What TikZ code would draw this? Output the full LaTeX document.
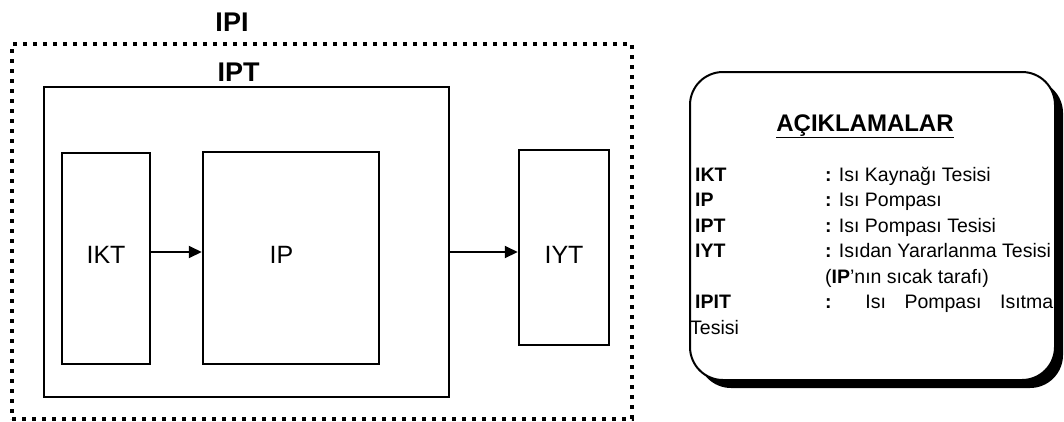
\documentclass[tikz,border=0pt]{standalone}
\usepackage{fontspec}
\setmainfont{Liberation Sans}
\usetikzlibrary{arrows.meta,shadows}
\begin{document}
\begin{tikzpicture}[x=1pt,y=-1pt,
  box/.style={draw,line width=2.5pt,inner sep=0pt},
  dotbox/.style={draw,line width=4pt,dash pattern=on 4pt off 6pt,inner sep=0pt},
  arr/.style={line width=2pt,-{Triangle[length=13pt,width=12pt]}},
  big/.style={font=\fontsize{27}{32}\selectfont\bfseries},
  mid/.style={font=\fontsize{25}{30}\selectfont},
  leg/.style={font=\fontsize{19.5}{24}\selectfont,anchor=base west,inner sep=0pt},
  legbox/.style={draw,line width=2pt,fill=white,rounded corners=33pt,inner sep=0pt,
    general shadow={fill=black,shadow xshift=8pt,shadow yshift=-8pt}}
]
\useasboundingbox (0,0) rectangle (1064,421);
% outer dotted box and IPT box
\node[dotbox,minimum width=620pt,minimum height=375pt] (ipi) at (322,231.5) {};
\node[box,minimum width=405pt,minimum height=310pt] (ipt) at (246.5,242) {};
\node[big,anchor=base] (ipilbl) at (232,31) {IPI};
\node[big,anchor=base] (iptlbl) at (238.5,81) {IPT};
% inner boxes
\node[box,minimum width=88pt,minimum height=211pt] (ikt) at (106,258.5) {};
\node[box,minimum width=176pt,minimum height=212pt] (ip) at (291,258) {};
\node[box,minimum width=90pt,minimum height=195pt] (iyt) at (564,247.5) {};
\node[mid,anchor=base] (iktlbl) at (106,263) {IKT};
\node[mid,anchor=base] (iplbl) at (281.5,263) {IP};
\node[mid,anchor=base] (iytlbl) at (564,263) {IYT};
% arrows
\coordinate (row) at (0,252);
\draw[arr] (ikt.east |- row) -- (ip.west |- row);
\draw[arr] (ipt.east |- row) -- (iyt.west |- row);
% legend
\node[legbox,minimum width=365pt,minimum height=308pt] (legend) at (872.5,226) {};
\node[font=\fontsize{24}{28}\selectfont\bfseries,anchor=base] (legtitle) at (865,131) {\underline{AÇIKLAMALAR}};
\node[leg] (k1) at (695,181) {\textbf{IKT}};
\node[leg] (v1) at (825,181) {\textbf{:} Isı Kaynağı Tesisi};
\node[leg] (k2) at (695,206.5) {\textbf{IP}};
\node[leg] (v2) at (825,206.5) {\textbf{:} Isı Pompası};
\node[leg] (k3) at (695,232) {\textbf{IPT}};
\node[leg] (v3) at (825,232) {\textbf{:} Isı Pompası Tesisi};
\node[leg] (k4) at (695,257.5) {\textbf{IYT}};
\node[leg] (v4) at (825,257.5) {\textbf{:} Isıdan Yararlanma Tesisi};
\node[leg] (v5) at (825,283) {(\textbf{IP}’nın sıcak tarafı)};
\node[leg] (k6) at (695,308.5) {\textbf{IPIT}};
\node[leg] (v6) at (825,308.5) {\makebox[228pt][s]{\textbf{:} Isı Pompası Isıtma}};
\node[leg] (v7) at (690,334) {Tesisi};
\end{tikzpicture}
\end{document}
